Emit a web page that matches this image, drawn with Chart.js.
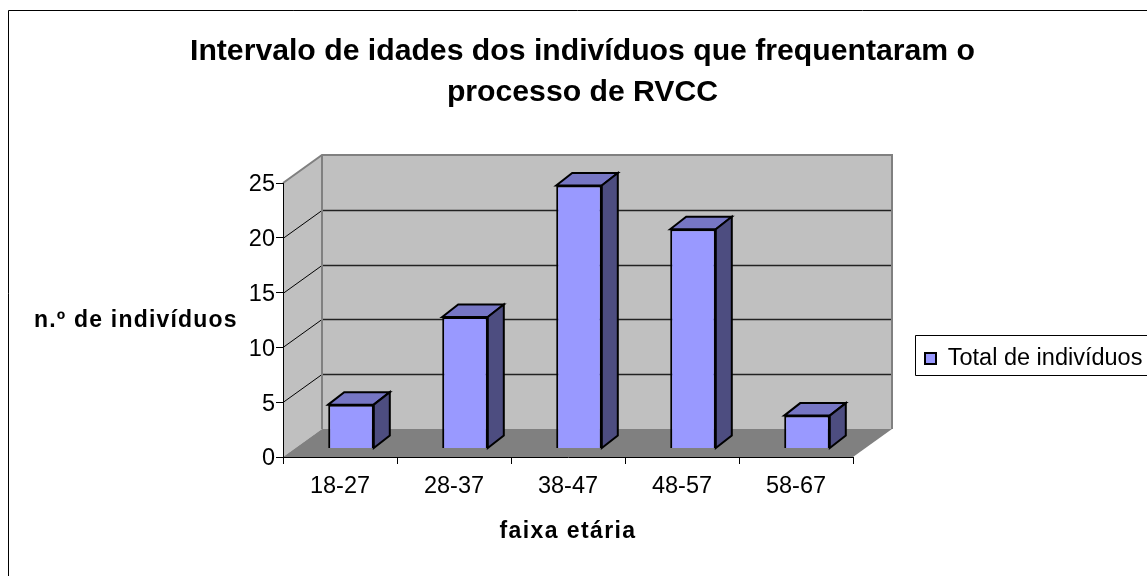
<!DOCTYPE html>
<html>
<head>
<meta charset="utf-8">
<style>
  html, body { margin: 0; padding: 0; background: #fff; }
  #wrap { width: 1147px; height: 576px; }
</style>
<script src="https://cdn.jsdelivr.net/npm/chart.js@4"></script>
</head>
<body>
<div id="wrap"><canvas id="myChart" width="1147" height="576"></canvas></div>
<script>
var categories = ["18-27", "28-37", "38-47", "48-57", "58-67"];
var totals = [4, 12, 24, 20, 3];
var yTicks = [0, 5, 10, 15, 20, 25];
var titleLines = ["Intervalo de idades dos indivíduos que frequentaram o", "processo de RVCC"];
var seriesName = "Total de indivíduos";
var xTitle = "faixa etária";
var yTitle = "n.º de indivíduos";

var font = "'Liberation Sans', Arial, sans-serif";

// depth of the back wall, and where the bars sit inside it
var wallX = 39, wallY = -28;
var barX = 11, barY = -8.5;
var sideX = 16, sideY = -12.5;

function poly(ctx, pts, fill, stroke, lw) {
  ctx.beginPath();
  pts.forEach(function (p, i) {
    if (i == 0) ctx.moveTo(p[0], p[1]);
    else ctx.lineTo(p[0], p[1]);
  });
  ctx.closePath();
  if (fill) {
    ctx.fillStyle = fill;
    ctx.fill();
  }
  if (stroke) {
    ctx.strokeStyle = stroke;
    ctx.lineWidth = lw;
    ctx.stroke();
  }
}

var fake3d = {
  id: "fake3d",
  afterLayout: function (chart) {
    // legend box hangs off the right side of the page like the original
    var lg = chart.legend;
    lg.left = 915;
    lg.right = 1150;
    lg.top = 338.5;
    lg.bottom = 378.5;

    // title is centred on the page area, not on the plot
    chart.titleBlock.left = 8;
    chart.titleBlock.right = 1157;

    var sx = chart.scales.x, sy = chart.scales.y;
    if (!sx._patched) {
      // x title is letter spaced in the original
      var drawTitle = sx.drawTitle;
      sx.drawTitle = function () {
        chart.ctx.save();
        chart.ctx.letterSpacing = "1.4px";
        drawTitle.call(sx);
        chart.ctx.restore();
      };
      // y tick labels sit a bit lower than the canvas middle baseline
      var drawLabels = sy.drawLabels;
      sy.drawLabels = function (area) {
        chart.ctx.save();
        chart.ctx.translate(1, 2);
        drawLabels.call(sy, area);
        chart.ctx.restore();
      };
      sx._patched = true;
    }
  },
  beforeDraw: function (chart) {
    var ctx = chart.ctx;
    var a = chart.chartArea;
    var y = chart.scales.y;
    var l = a.left, r = a.right, t = a.top, b = a.bottom;
    var L = l + wallX, R = r + wallX, T = t + wallY, B = b + wallY;

    ctx.save();
    ctx.fillStyle = "#fff";
    ctx.fillRect(0, 0, chart.width, chart.height);

    // outer frame, only left and top show in the picture
    ctx.strokeStyle = "#000";
    ctx.lineWidth = 1;
    ctx.beginPath();
    ctx.moveTo(8.5, 576);
    ctx.lineTo(8.5, 10.5);
    ctx.lineTo(1147, 10.5);
    ctx.stroke();

    poly(ctx, [[l, t], [L, T], [L, B], [l, b]], "#c0c0c0");
    poly(ctx, [[L, T], [R, T], [R, B], [L, B]], "#c0c0c0");
    poly(ctx, [[l, b], [L, B], [R, B], [r, b]], "#808080");

    // grid lines on side and back wall
    yTicks.forEach(function (v) {
      if (v == 0 || v == 25) return;
      var py = Math.round(y.getPixelForValue(v)) + 0.5;
      ctx.strokeStyle = "#000";
      ctx.lineWidth = 1;
      ctx.beginPath();
      ctx.moveTo(l, py);
      ctx.lineTo(L, py + wallY);
      ctx.stroke();
      ctx.strokeStyle = "#222";
      ctx.lineWidth = 1.5;
      ctx.beginPath();
      ctx.moveTo(L, py + wallY);
      ctx.lineTo(R, py + wallY);
      ctx.stroke();
    });

    // wall edges
    ctx.strokeStyle = "#808080";
    ctx.lineWidth = 2;
    ctx.beginPath();
    ctx.moveTo(l, t);
    ctx.lineTo(L, T);
    ctx.lineTo(R, T);
    ctx.lineTo(R, B);
    ctx.moveTo(L, T);
    ctx.lineTo(L, B);
    ctx.stroke();

    // legend frame
    ctx.strokeStyle = "#000";
    ctx.lineWidth = 1;
    ctx.beginPath();
    ctx.moveTo(1147, 335.5);
    ctx.lineTo(915.5, 335.5);
    ctx.lineTo(915.5, 375.5);
    ctx.lineTo(1147, 375.5);
    ctx.stroke();

    // horizontal y axis title
    ctx.fillStyle = "#000";
    ctx.font = "bold 23px " + font;
    ctx.textAlign = "left";
    ctx.textBaseline = "alphabetic";
    ctx.letterSpacing = "1.2px";
    ctx.fillText(yTitle, 34, 327);
    ctx.letterSpacing = "0px";
    ctx.restore();
  },
  beforeDatasetsDraw: function (chart) {
    chart.ctx.save();
    chart.ctx.translate(barX, barY);
  },
  afterDatasetsDraw: function (chart) {
    var ctx = chart.ctx;
    chart.getDatasetMeta(0).data.forEach(function (bar) {
      var x0 = bar.x - bar.width / 2, x1 = bar.x + bar.width / 2;
      var top = bar.y, base = bar.base;
      ctx.lineJoin = "miter";
      poly(ctx, [[x0, top], [x0 + sideX, top + sideY], [x1 + sideX, top + sideY], [x1, top]], "#7676c4", "#000", 2);
      poly(ctx, [[x1, top], [x1 + sideX, top + sideY], [x1 + sideX, base + sideY], [x1, base]], "#4d4d80", "#000", 2);
    });
    ctx.restore();
  }
};

var ctx = document.getElementById("myChart");

var myChart = new Chart(ctx, {
  type: "bar",
  data: {
    labels: categories,
    datasets: [
      {
        label: seriesName,
        data: totals,
        backgroundColor: "#9999ff",
        borderColor: "#000",
        borderWidth: 2,
        barPercentage: 0.4,
        categoryPercentage: 1,
      },
    ],
  },
  plugins: [fake3d],
  options: {
    responsive: false,
    animation: false,
    layout: { padding: { left: 223, right: 294, top: 32, bottom: 31 } },
    plugins: {
      tooltip: { enabled: false },
      title: {
        display: true,
        text: titleLines,
        color: "#000",
        font: { family: font, size: 30.2, weight: "bold", lineHeight: 1.333 },
        padding: { top: 0, bottom: 70.5 },
      },
      legend: {
        display: true,
        position: "chartArea",
        labels: {
          color: "#000",
          font: { family: font, size: 23.5 },
          boxWidth: 11,
          boxHeight: 11,
          padding: 10,
        },
      },
    },
    scales: {
      x: {
        grid: { drawOnChartArea: false, color: "#000", tickLength: 7, tickColor: "#000" },
        border: { color: "#000" },
        ticks: { color: "#000", font: { family: font, size: 23.5 }, padding: 8, maxRotation: 0 },
        title: {
          display: true,
          text: xTitle,
          color: "#000",
          font: { family: font, size: 23, weight: "bold" },
          padding: 0,
        },
        afterFit: function (scale) {
          scale.height = 88;
        },
      },
      y: {
        min: 0,
        max: 25,
        afterBuildTicks: function (scale) {
          scale.ticks = yTicks.map(function (v) {
            return { value: v };
          });
        },
        grid: { drawOnChartArea: false, color: "#000", tickLength: 7, tickColor: "#000" },
        border: { color: "#000" },
        ticks: { color: "#000", font: { family: font, size: 23.5 }, padding: 2 },
        afterFit: function (scale) {
          scale.width = 60;
        },
      },
    },
  },
});
</script>
</body>
</html>
